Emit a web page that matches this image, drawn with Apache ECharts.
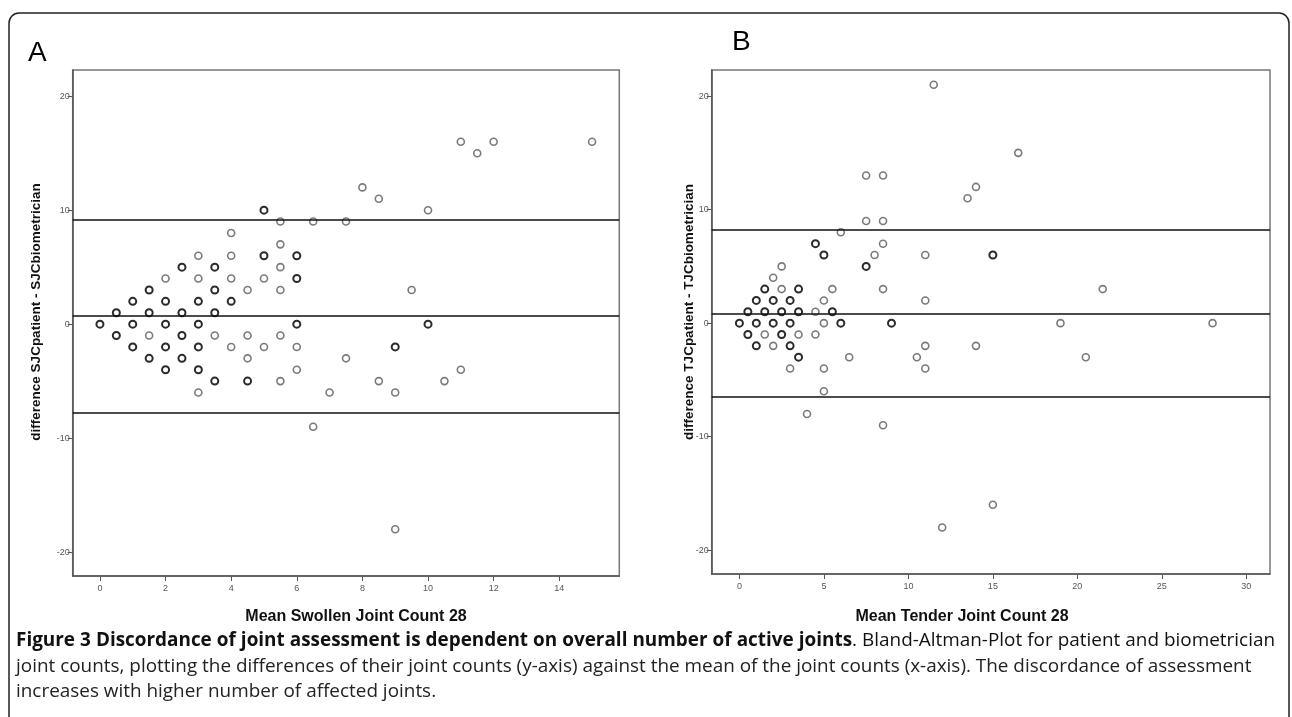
<!DOCTYPE html>
<html><head><meta charset="utf-8">
<script src="https://cdn.jsdelivr.net/npm/echarts@6/dist/echarts.min.js"></script>
<style>html,body{margin:0;padding:0;background:#fff}#c{width:1292px;height:717px}</style>
</head><body><div id="c"></div>
<script>
// ---------- DATA ----------
// Panel A: [mean SJC, difference SJC]
const aLight = [[8,12],[8.5,11],[11,16],[11.5,15],[12,16],[15,16],[10,10],[5.5,9],[6.5,9],[7.5,9],[4,8],[5.5,7],[3,6],[4,6],[5.5,5],[2,4],[3,4],[4,4],[5,4],[4.5,3],[5.5,3],[9.5,3],[1.5,-1],[3.5,-1],[4.5,-1],[5.5,-1],[4,-2],[5,-2],[6,-2],[4.5,-3],[7.5,-3],[6,-4],[11,-4],[5.5,-5],[8.5,-5],[10.5,-5],[3,-6],[7,-6],[9,-6],[6.5,-9],[9,-18]];
const aDark = [[5,10],[5,6],[6,6],[2.5,5],[3.5,5],[6,4],[1.5,3],[3.5,3],[1,2],[2,2],[3,2],[4,2],[0.5,1],[1.5,1],[2.5,1],[3.5,1],[0,0],[1,0],[2,0],[3,0],[6,0],[0.5,-1],[2.5,-1],[1,-2],[2,-2],[3,-2],[1.5,-3],[2.5,-3],[2,-4],[3,-4],[3.5,-5],[4.5,-5],[10,0],[9,-2]];
// Panel B: [mean TJC, difference TJC]
const bLight = [[11.5,21],[16.5,15],[7.5,13],[8.5,13],[14,12],[13.5,11],[7.5,9],[8.5,9],[6,8],[8.5,7],[8,6],[11,6],[2.5,5],[2,4],[2.5,3],[5.5,3],[8.5,3],[21.5,3],[5,2],[11,2],[4.5,1],[5,0],[19,0],[28,0],[1.5,-1],[3.5,-1],[4.5,-1],[2,-2],[11,-2],[14,-2],[6.5,-3],[10.5,-3],[20.5,-3],[3,-4],[5,-4],[11,-4],[5,-6],[4,-8],[8.5,-9],[15,-16],[12,-18]];
const bDark = [[4.5,7],[5,6],[7.5,5],[1.5,3],[3.5,3],[1,2],[2,2],[3,2],[0.5,1],[1.5,1],[2.5,1],[3.5,1],[5.5,1],[0,0],[1,0],[2,0],[3,0],[6,0],[9,0],[0.5,-1],[2.5,-1],[1,-2],[3,-2],[3.5,-3],[15,6]];
// Limits of agreement (upper, mean, lower)
const aLimits = [9.2, 0.7, -7.8];
const bLimits = [8.2, 0.8, -6.5];
// Tick labels
const aXTicks = [0,2,4,6,8,10,12,14];
const bXTicks = [0,5,10,15,20,25,30];
const yTicks = [-20,-10,0,10,20];
const aXTitle = 'Mean Swollen Joint Count 28';
const bXTitle = 'Mean Tender Joint Count 28';
const aYTitle = 'difference SJCpatient - SJCbiometrician';
const bYTitle = 'difference TJCpatient - TJCbiometrician';
const panelLetters = ['A','B'];
const capBold = 'Figure 3 Discordance of joint assessment is dependent on overall number of active joints';
const capRest1 = 'Bland-Altman-Plot for patient and biometrician';
const capLine2 = 'joint counts, plotting the differences of their joint counts (y-axis) against the mean of the joint counts (x-axis). The discordance of assessment';
const capLine3 = 'increases with higher number of affected joints.';

// ---------- CHART ----------
const chart = echarts.init(document.getElementById('c'));
const SANS = 'Liberation Sans, Arial, sans-serif';
const lbl = {color:'#555', fontSize:9, fontFamily:SANS};

function xAx(g, min, max, ticks){
  return {type:'value', gridIndex:g, min, max,
    axisLine:{show:true, onZero:false, lineStyle:{color:'#555', width:1.5}},
    axisTick:{show:true, length:5, customValues:ticks, lineStyle:{color:'#555', width:1}},
    axisLabel:Object.assign({customValues:ticks, margin:8}, lbl),
    splitLine:{show:false}};
}
function yAx(g){
  return {type:'value', gridIndex:g, min:-22.1, max:22.3,
    axisLine:{show:true, onZero:false, lineStyle:{color:'#555', width:1.5}},
    axisTick:{show:true, length:5, customValues:yTicks, lineStyle:{color:'#555', width:1}},
    axisLabel:Object.assign({customValues:yTicks, margin:3}, lbl),
    splitLine:{show:false}};
}
function ml(vals){
  return {silent:true, symbol:['none','none'], label:{show:false}, animation:false,
    lineStyle:{color:'#111', width:1.5, type:'solid'},
    data: vals.map(v=>({yAxis:v}))};
}
function sc(g, data, dark, limits){
  const s = {type:'scatter', xAxisIndex:g, yAxisIndex:g, data, symbol:'circle', symbolSize:7,
    itemStyle:{color:'#fff', borderColor: dark ? '#2a2a2a' : '#7a7a7a', borderWidth: dark ? 2 : 1.6, opacity:1},
    emphasis:{disabled:true}, z: dark ? 4 : 3};
  if (limits) s.markLine = ml(limits);
  return s;
}

// caption layout (justified first line)
const mctx = document.createElement('canvas').getContext('2d');
function tw(t, f){ mctx.font = f; return mctx.measureText(t).width; }
const CF = 'Open Sans';
let fs = 15;
fs = fs * 1236 / tw(capLine2, fs + 'px ' + CF);
const fReg = fs + 'px ' + CF, fBold = 'bold ' + fs + 'px ' + CF;
const words = capBold.split(' ').map(w=>({t:w,b:true}));
words[words.length-1].dot = true;
capRest1.split(' ').forEach(w=>words.push({t:w,b:false}));
let totalW = 0;
words.forEach(w=>{ w.w = tw(w.t, w.b?fBold:fReg); totalW += w.w; if (w.dot) totalW += tw('.', fReg); });
const capL = 16, capR = 1275;
const gapW = (capR - capL - totalW) / (words.length - 1);
const capY = [641, 667, 692];
const graphics = [];
let cx = capL;
words.forEach(w=>{
  graphics.push({type:'text', x:cx, y:capY[0], style:{text:w.t, font:(w.b?fBold:fReg), fill:'#111', textVerticalAlign:'middle'}});
  cx += w.w;
  if (w.dot){ graphics.push({type:'text', x:cx, y:capY[0], style:{text:'.', font:fReg, fill:'#111', textVerticalAlign:'middle'}}); cx += tw('.', fReg); }
  cx += gapW;
});
graphics.push({type:'text', x:capL, y:capY[1], style:{text:capLine2, font:fReg, fill:'#222', textVerticalAlign:'middle'}});
graphics.push({type:'text', x:capL, y:capY[2], style:{text:capLine3, font:fReg, fill:'#222', textVerticalAlign:'middle'}});
// axis titles
const xtFont = 'bold 16px ' + SANS;
const ytFont = 'bold 13.5px ' + SANS;
graphics.push({type:'text', x:356, y:617, style:{text:aXTitle, font:xtFont, fill:'#111', textAlign:'center', textVerticalAlign:'middle'}});
graphics.push({type:'text', x:962, y:617, style:{text:bXTitle, font:xtFont, fill:'#111', textAlign:'center', textVerticalAlign:'middle'}});
graphics.push({type:'text', x:36, y:312, rotation:Math.PI/2, style:{text:aYTitle, font:ytFont, fill:'#111', textAlign:'center', textVerticalAlign:'middle'}});
graphics.push({type:'text', x:689, y:312, rotation:Math.PI/2, style:{text:bYTitle, font:ytFont, fill:'#111', textAlign:'center', textVerticalAlign:'middle'}});
// outer frame and panel letters
graphics.push({type:'rect', shape:{x:9, y:13, width:1280, height:760, r:[10,10,0,0]}, style:{fill:'none', stroke:'#222', lineWidth:1.5}, z:-1});
graphics.push({type:'text', x:28, y:53, style:{text:panelLetters[0], font:'28px ' + SANS, fill:'#000', textVerticalAlign:'middle'}});
graphics.push({type:'text', x:732, y:42, style:{text:panelLetters[1], font:'28px ' + SANS, fill:'#000', textVerticalAlign:'middle'}});

chart.setOption({
  animation:false,
  backgroundColor:'#fff',
  grid:[
    {left:72.7, top:70, width:546.6, height:506, show:true, borderColor:'#777', borderWidth:1.5, containLabel:false},
    {left:711.7, top:70, width:558.3, height:504, show:true, borderColor:'#777', borderWidth:1.5, containLabel:false}
  ],
  xAxis:[xAx(0, -0.83, 15.83, aXTicks), xAx(1, -1.64, 31.4, bXTicks)],
  yAxis:[yAx(0), yAx(1)],
  series:[sc(0, aLight, false, aLimits), sc(0, aDark, true, null), sc(1, bLight, false, bLimits), sc(1, bDark, true, null)],
  graphic: graphics
});
</script></body></html>
